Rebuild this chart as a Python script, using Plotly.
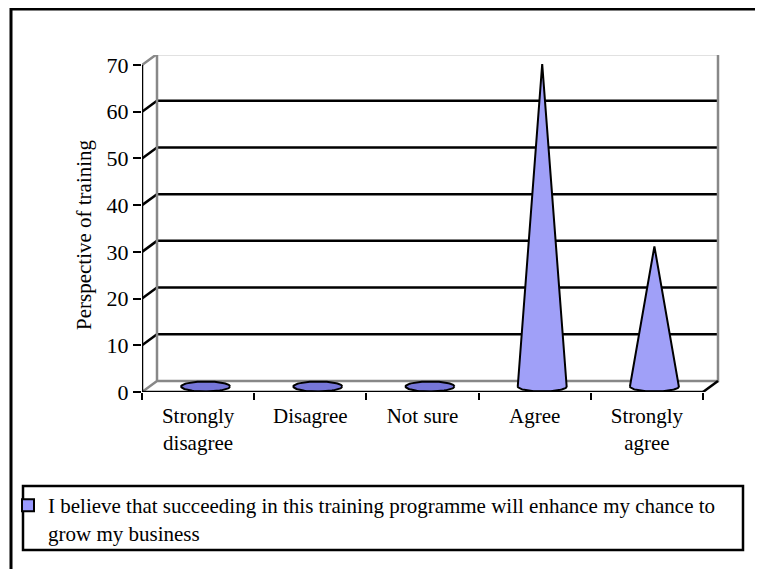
import numpy as np
import plotly.graph_objects as go

categories = ["Strongly<br>disagree", "Disagree", "Not sure", "Agree", "Strongly<br>agree"]
values = [0, 0, 1, 69, 30]
series_name = "I believe that succeeding in this training programme will enhance my chance to<br>grow my business"
y_title = "Perspective of training"
y_ticks = [0, 10, 20, 30, 40, 50, 60, 70]

W, H = 763, 569
OFF = 8  # page body margin
L, T = 142 - OFF, 55 - OFF
R = W - (720 - OFF)
B = H - (392 - OFF)
px_per_x = 112.2
px_per_y = 4.671
x0 = -0.5
x1 = x0 + (W - L - R) / px_per_x
y1 = (H - T - B) / px_per_y
DX = 15 / px_per_x
DY = 11 / px_per_y
n = len(categories)

FONT = "Liberation Serif"
FS = 21
CONE = "#a0a0f8"
FLAT = "#7676d8"

def to_paper(px, py):
    # page pixel -> paper coords
    px -= OFF
    py -= OFF
    return (px - L) / (W - L - R), (H - B - py) / (H - T - B)

fig = go.Figure()

# cones
hw = 0.218
eh = 5 / px_per_y
t = np.linspace(0, -np.pi, 40)
tf = np.linspace(0, 2 * np.pi, 80)
for i, v in enumerate(values):
    cx = i + DX / 2
    by = DY / 2
    if v > eh * 1.5:
        xs = [cx - hw, cx, cx + hw] + list(cx + hw * np.cos(t))
        ys = [by, by + v, by] + list(by + eh * np.sin(t))
        col = CONE
    else:
        xs = list(cx + hw * np.cos(tf))
        ys = list(by + eh * np.sin(tf))
        col = FLAT
    fig.add_trace(go.Scatter(x=xs, y=ys, fill="toself", fillcolor=col, mode="lines",
                             line=dict(color="black", width=2), showlegend=False, hoverinfo="skip"))

# legend entry
fig.add_trace(go.Bar(x=[None], y=[None], name=series_name,
                     marker=dict(color="#9999ff", line=dict(color="black", width=2))))

shapes = []
GRAY = "#888888"
for yv in y_ticks[1:-1]:
    shapes.append(dict(type="line", xref="x", yref="y", x0=x0 + DX, x1=n - 0.5 + DX, y0=yv + DY, y1=yv + DY,
                       line=dict(color="black", width=2.5), layer="below"))
    shapes.append(dict(type="line", xref="x", yref="y", x0=x0, x1=x0 + DX, y0=yv, y1=yv + DY,
                       line=dict(color="black", width=2.5), layer="below"))
top = y_ticks[-1]
shapes.append(dict(type="path", xref="x", yref="y",
                   path=f"M {x0},{top} L {x0+DX},{top+DY} L {n-0.5+DX},{top+DY} L {n-0.5+DX},{DY} L {x0+DX},{DY} L {x0},0 M {x0+DX},{DY} L {x0+DX},{top+DY}",
                   line=dict(color=GRAY, width=2.5), layer="below"))
shapes.append(dict(type="line", xref="x", yref="y", x0=x0, x1=x0, y0=0, y1=top, line=dict(color="black", width=2.5)))
shapes.append(dict(type="line", xref="x", yref="y", x0=x0, x1=n - 0.5, y0=0, y1=0, line=dict(color="black", width=2.5)))
shapes.append(dict(type="line", xref="x", yref="y", x0=n - 0.5, x1=n - 0.5 + DX, y0=0, y1=DY, line=dict(color="black", width=2.5)))

# legend box
lx0, ly0 = to_paper(23, 550)
lx1, ly1 = to_paper(743, 486)
shapes.append(dict(type="rect", xref="paper", yref="paper", x0=lx0, y0=ly0, x1=lx1, y1=ly1,
                   line=dict(color="black", width=2.5)))
# outer frame
fx0, fy0 = to_paper(11, 600)
fx1, fy1 = to_paper(790, 9)
shapes.append(dict(type="rect", xref="paper", yref="paper", x0=fx0, y0=fy0, x1=fx1, y1=fy1,
                   line=dict(color="black", width=3)))

tx, ty = to_paper(84, 235)
annotations = [dict(text=y_title, xref="paper", yref="paper", x=tx, y=ty, textangle=-90,
                    showarrow=False, xanchor="center", yanchor="middle",
                    font=dict(size=FS, family=FONT, color="black"))]

fig.update_layout(
    width=W, height=H,
    margin=dict(l=L, r=R, t=T, b=B, pad=0, autoexpand=False),
    paper_bgcolor="white", plot_bgcolor="white",
    font=dict(family=FONT, size=FS, color="black"),
    shapes=shapes,
    annotations=annotations,
    showlegend=True,
    legend=dict(xref="container", yref="container", x=0.0, y=1 - (485 - OFF) / H,
                xanchor="left", yanchor="top", font=dict(size=FS, family=FONT),
                bgcolor="rgba(0,0,0,0)", borderwidth=0, itemwidth=30, valign="top",
                tracegroupgap=0),
    xaxis=dict(range=[x0, x1], showgrid=False, zeroline=False, showline=False,
               tickvals=list(range(n)), ticktext=categories, ticks="",
               tickfont=dict(size=FS, family=FONT), ticklabelstandoff=9,
               minor=dict(tickvals=[i - 0.5 for i in range(n + 1)], ticks="outside", ticklen=7,
                          tickwidth=2, tickcolor="black", showgrid=False)),
    yaxis=dict(range=[0, y1], showgrid=False, zeroline=False, showline=False,
               tickvals=y_ticks, ticks="outside", ticklen=8, tickwidth=2, tickcolor="black",
               tickfont=dict(size=22, family=FONT), ticklabelstandoff=0),
)

fig.write_html("out.html")
